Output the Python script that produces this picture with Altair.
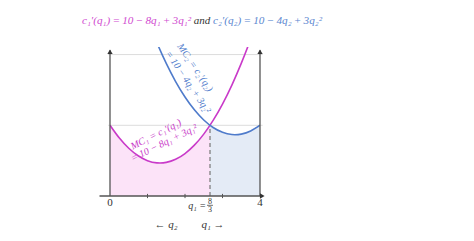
import altair as alt
import pandas as pd

# ---- data ----
q1 = [0, 0.25, 0.5, 0.75, 1, 1.25, 1.5, 1.75, 2, 2.25, 2.5, 2.75, 3, 3.25, 3.5, 3.75, 4]
mc1 = [10, 8.1875, 6.75, 5.6875, 5, 4.6875, 4.75, 5.1875, 6, 7.1875, 8.75, 10.6875,
       13, 15.6875, 18.75, 22.1875, 26]
mc2 = [42, 37.1875, 32.75, 28.6875, 25, 21.6875, 18.75, 16.1875, 14, 12.1875, 10.75,
       9.6875, 9, 8.6875, 8.75, 9.1875, 10]
q_star = 8 / 3
mc_star = 10
grid_levels = [10, 20]
minor_ticks = [1, 2, 3]

PINK = "#c93ac9"
BLUE = "#4f7bcb"
PINK_FILL = "#fce3f8"
BLUE_FILL = "#e4ebf6"
AXIS = "#555555"
SERIF = "Liberation Serif"
T = "\u2009"  # thin space

XS = alt.Scale(domain=[0, 4])
YS = alt.Scale(domain=[0, 21.07])

curves = pd.DataFrame({"q": q1, "mc1": mc1, "mc2": mc2})
pink_area = pd.DataFrame({"q": [q for q in q1 if q < q_star] + [q_star],
                          "v": [v for q, v in zip(q1, mc1) if q < q_star] + [mc_star]})
blue_area = pd.DataFrame({"q": [q_star] + [q for q in q1 if q > q_star],
                          "v": [mc_star] + [v for q, v in zip(q1, mc2) if q > q_star]})


def X(f):
    return alt.X(f, type="quantitative", scale=XS, axis=None)


def Y(f):
    return alt.Y(f, type="quantitative", scale=YS, axis=None)


area1 = alt.Chart(pink_area).mark_area(color=PINK_FILL, interpolate="natural").encode(x=X("q"), y=Y("v"))
area2 = alt.Chart(blue_area).mark_area(color=BLUE_FILL, interpolate="natural").encode(x=X("q"), y=Y("v"))

grid = alt.Chart(pd.DataFrame({"g": grid_levels, "a": -0.05, "b": 4.07})).mark_rule(
    color="#dcdcdc", strokeWidth=1).encode(y=Y("g"), x=X("a"), x2="b:Q")

dash = alt.Chart(pd.DataFrame({"q": [q_star], "lo": [0], "v": [mc_star]})).mark_rule(
    color="#777777", strokeDash=[4, 3], strokeWidth=1.2).encode(x=X("q"), y=Y("lo"), y2="v:Q")

line1 = alt.Chart(curves).mark_line(color=PINK, strokeWidth=1.6, interpolate="natural", clip=True).encode(
    x=X("q"), y=Y("mc1"))
line2 = alt.Chart(curves).mark_line(color=BLUE, strokeWidth=1.6, interpolate="natural", clip=True).encode(
    x=X("q"), y=Y("mc2"))

vaxes = alt.Chart(pd.DataFrame({"q": [0, 4], "lo": 0, "hi": 20.6})).mark_rule(
    color=AXIS, strokeWidth=1.3).encode(x=X("q"), y=Y("lo"), y2="hi:Q")
haxis = alt.Chart(pd.DataFrame({"a": [-0.28], "b": [4.04], "lo": [0]})).mark_rule(
    color=AXIS, strokeWidth=1.3).encode(y=Y("lo"), x=X("a"), x2="b:Q")
up_arrows = alt.Chart(pd.DataFrame({"q": [0, 4], "hi": 20.4})).mark_point(
    shape="triangle-up", filled=True, color="#333333", size=28, opacity=1).encode(x=X("q"), y=Y("hi"))
right_arrow = alt.Chart(pd.DataFrame({"a": [4.06], "lo": [0]})).mark_point(
    shape="triangle-right", filled=True, color="#333333", size=28, opacity=1).encode(x=X("a"), y=Y("lo"))
ticks = alt.Chart(pd.DataFrame({"q": minor_ticks, "lo": -0.3, "hi": 0.3})).mark_rule(
    color=AXIS, strokeWidth=1).encode(x=X("q"), y=Y("lo"), y2="hi:Q")


def txt(text, xv, yv, color="#333333", size=11, align="center", angle=0, style="italic"):
    kw = dict(text=text, color=color, fontSize=size, font=SERIF, align=align,
              baseline="middle", fontStyle=style)
    if angle:
        kw["angle"] = angle
    return alt.Chart(pd.DataFrame({"a": [0]})).mark_text(**kw).encode(
        x=alt.value(xv), y=alt.value(yv))


texts = [
    txt(f"c₁′(q₁){T}={T}10{T}−{T}8q₁{T}+{T}3q₁²", 81, -26, color="#d04ad0", size=11.2, align="right"),
    txt("and", 92, -26, color="#333333", size=11),
    txt(f"c₂′(q₂){T}={T}10{T}−{T}4q₂{T}+{T}3q₂²", 103, -26, color="#5a86d0", size=11.2, align="left"),
    txt("MC₁ = c₁′(q₁)", 46, 87.5, color=PINK, size=10, angle=333),
    txt("= 10 − 8q₁ + 3q₁²", 54, 96, color=PINK, size=10, angle=334),
    txt("MC₂ = c₂′(q₂)", 85, 20.5, color=BLUE, size=10, angle=56),
    txt("= 10 − 4q₂ + 3q₂²", 78, 35, color=BLUE, size=10, angle=56),
    txt("0", 0, 156, size=11, style="normal"),
    txt("4", 150, 156, size=11, style="normal"),
    txt("q₁ =", 96, 159, size=10, align="right"),
    txt("8", 100, 154.5, size=8, style="normal"),
    txt("3", 100, 162.5, size=8, style="normal"),
    txt("← q₂", 56, 178, size=11),
    txt("q₁ →", 103, 178, size=11),
]
frac_bar = alt.Chart(pd.DataFrame({"a": [0]})).mark_rule(color="#333333", strokeWidth=0.7).encode(
    x=alt.value(97), x2=alt.value(103), y=alt.value(158.3))

chart = alt.layer(area1, area2, grid, dash, line1, line2, vaxes, haxis, ticks,
                  up_arrows, right_arrow, frac_bar, *texts).properties(
    width=150, height=149,
    autosize=alt.AutoSizeParams(type="none"),
    padding={"left": 110, "top": 47, "right": 214, "bottom": 45},
).configure_view(stroke=None)

chart.save("out.html", embed_options={"renderer": "svg", "actions": False})
